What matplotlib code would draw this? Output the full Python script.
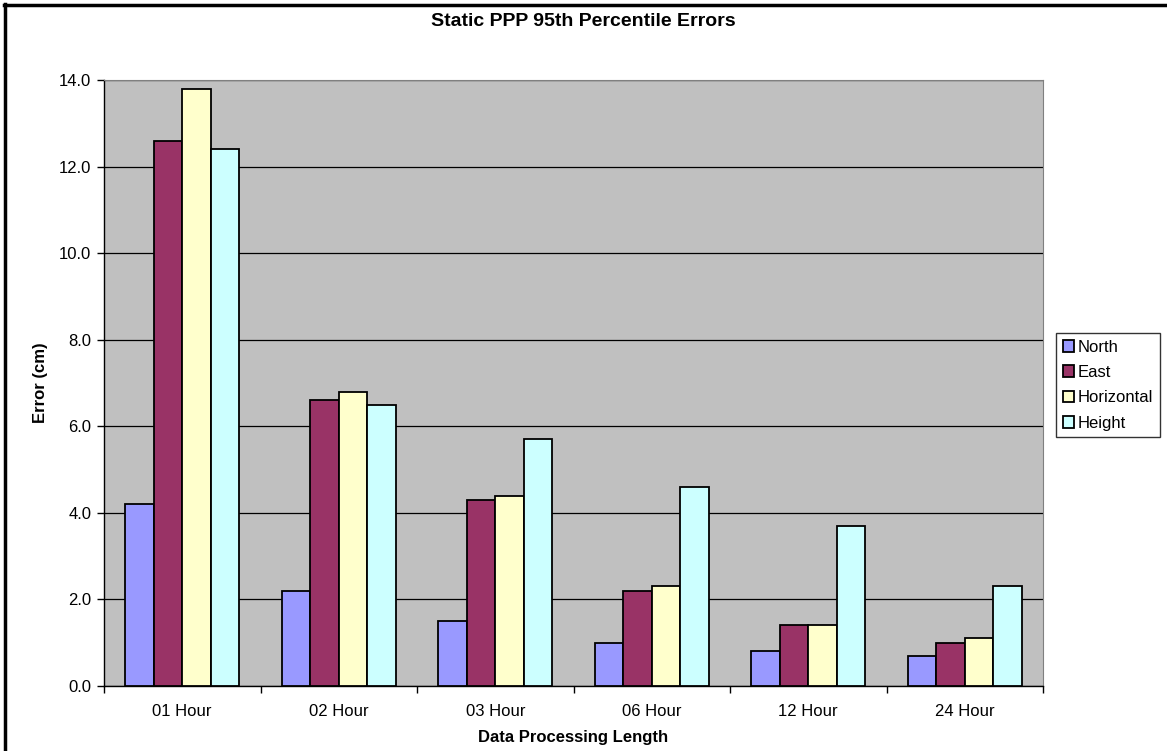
import matplotlib
matplotlib.use("Agg")
import matplotlib.pyplot as plt
from matplotlib.lines import Line2D
import numpy as np

plt.rcParams['font.family'] = ['Liberation Sans', 'DejaVu Sans']

categories = ['01 Hour', '02 Hour', '03 Hour', '06 Hour', '12 Hour', '24 Hour']
north = [4.2, 2.2, 1.5, 1.0, 0.8, 0.7]
east = [12.6, 6.6, 4.3, 2.2, 1.4, 1.0]
horizontal = [13.8, 6.8, 4.4, 2.3, 1.4, 1.1]
height = [12.4, 6.5, 5.7, 4.6, 3.7, 2.3]

series = [('North', north, '#9999FF'),
          ('East', east, '#993366'),
          ('Horizontal', horizontal, '#FFFFCC'),
          ('Height', height, '#CCFFFF')]

fig = plt.figure(figsize=(11.67, 7.51), dpi=100)
ax = fig.add_axes([104/1167, 65/751, 939/1167, 606/751])
ax.set_facecolor('#C0C0C0')

# excel-style clustered bars, gap width 150%
bw = 1.0 / (len(series) + 1.5)
x = np.arange(len(categories))
for i, (name, vals, col) in enumerate(series):
    off = (i - (len(series) - 1) / 2) * bw
    ax.bar(x + off, vals, width=bw, color=col, edgecolor='black',
           linewidth=1.3, label=name, zorder=3)

ax.set_xlim(-0.5, len(categories) - 0.5)
ax.set_ylim(0, 14)
ax.set_yticks(np.arange(0, 14.1, 2))
ax.set_yticklabels(['%.1f' % v for v in np.arange(0, 14.1, 2)])
ax.yaxis.grid(True, color='black', linewidth=0.9, zorder=1)
ax.set_axisbelow(True)

ax.set_xticks(x)
ax.set_xticklabels(categories)
ax.set_xticks(np.arange(-0.5, len(categories)), minor=True)
ax.tick_params(axis='x', which='major', length=0, pad=13, labelsize=12)
ax.tick_params(axis='x', which='minor', length=5, width=1, direction='out')
ax.tick_params(axis='y', length=5, width=1, direction='out', labelsize=12, pad=4)

for s in ['top', 'right']:
    ax.spines[s].set_color('#808080')
for s in ['left', 'bottom']:
    ax.spines[s].set_color('black')
    ax.spines[s].set_linewidth(1)

ax.set_xlabel('Data Processing Length', fontsize=12, fontweight='bold', labelpad=8)
ax.set_ylabel('Error (cm)', fontsize=12, fontweight='bold', labelpad=8)
fig.text(0.5 * (428 + 739) / 1167, 1 - 21 / 751, 'Static PPP 95th Percentile Errors',
         ha='center', va='center', fontsize=14, fontweight='bold')

leg = ax.legend(loc='upper left', bbox_to_anchor=(1056/1167, 1 - 333/751),
                bbox_transform=fig.transFigure, frameon=True, fancybox=False,
                edgecolor='black', fontsize=12, handlelength=0.7, handleheight=0.7,
                handletextpad=0.2, borderpad=0.4, labelspacing=0.62, borderaxespad=0)
leg.get_frame().set_linewidth(1)

# outer chart frame (top and left edges)
fig.add_artist(Line2D([4/1167, 1], [1 - 5/751, 1 - 5/751], color='black', linewidth=2.5,
                      transform=fig.transFigure))
fig.add_artist(Line2D([5/1167, 5/1167], [0, 1 - 4/751], color='black', linewidth=2.5,
                      transform=fig.transFigure))

fig.savefig('out.png', dpi=100)
